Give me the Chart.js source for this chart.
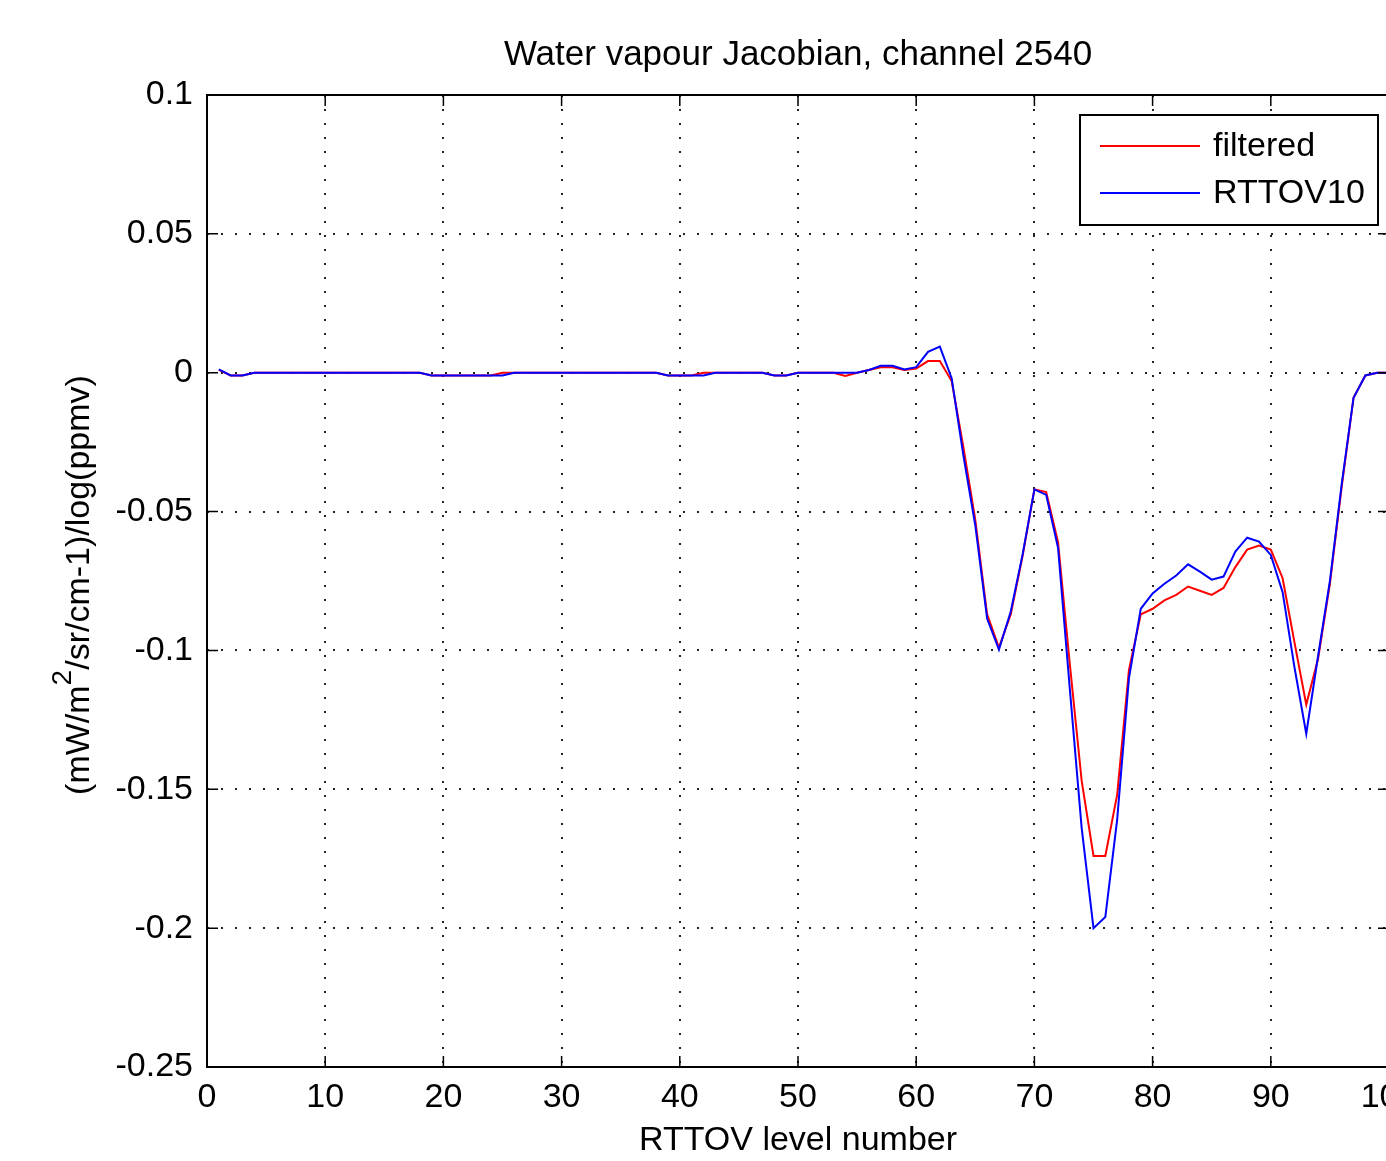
<!DOCTYPE html>
<html>
<head>
<meta charset="utf-8">
<script src="https://cdn.jsdelivr.net/npm/chart.js@4/dist/chart.umd.min.js"></script>
<style>
  html, body { margin: 0; padding: 0; background: #fff; overflow: hidden; }
  #wrap { width: 1386px; height: 1161px; overflow: hidden; }
  canvas { display: block; }
</style>
</head>
<body>
<div id="wrap"><canvas id="jac" width="1430" height="1161"></canvas></div>
<script>
// RTTOV levels 1..100
const levels = [1,2,3,4,5,6,7,8,9,10,11,12,13,14,15,16,17,18,19,20,
  21,22,23,24,25,26,27,28,29,30,31,32,33,34,35,36,37,38,39,40,
  41,42,43,44,45,46,47,48,49,50,51,52,53,54,55,56,57,58,59,60,
  61,62,63,64,65,66,67,68,69,70,71,72,73,74,75,76,77,78,79,80,
  81,82,83,84,85,86,87,88,89,90,91,92,93,94,95,96,97,98,99,100];

// filtered jacobian (red)
const filtered = [0.001,-0.001,-0.001,0,0,0,0,0,0,0,0,0,0,0,0,0,0,0,-0.001,-0.001,
  -0.001,-0.001,-0.001,-0.001,0,0,0,0,0,0,0,0,0,0,0,0,0,0,-0.001,-0.001,
  -0.001,0,0,0,0,0,0,-0.001,-0.001,0,0,0,0,-0.0012,0,0.001,0.002,0.002,0.001,0.0015,
  0.0042,0.0042,-0.003,-0.027,-0.053,-0.087,-0.099,-0.087,-0.066,-0.042,-0.043,-0.061,-0.105,-0.147,-0.174,-0.174,-0.152,-0.107,-0.087,-0.085,
  -0.082,-0.080,-0.077,-0.0785,-0.080,-0.0775,-0.070,-0.0637,-0.0622,-0.0637,-0.074,-0.097,-0.1195,-0.103,-0.076,-0.041,-0.009,-0.001,0,0];

// RTTOV10 jacobian (blue)
const rttov10 = [0.0012,-0.001,-0.001,0,0,0,0,0,0,0,0,0,0,0,0,0,0,0,-0.001,-0.001,
  -0.001,-0.001,-0.001,-0.001,-0.001,0,0,0,0,0,0,0,0,0,0,0,0,0,-0.001,-0.001,
  -0.001,-0.001,0,0,0,0,0,-0.001,-0.001,0,0,0,0,0,0,0.001,0.0025,0.0025,0.0012,0.002,
  0.0075,0.0094,-0.002,-0.030,-0.055,-0.0885,-0.0997,-0.086,-0.0655,-0.042,-0.044,-0.063,-0.114,-0.164,-0.200,-0.196,-0.161,-0.110,-0.085,-0.0795,
  -0.076,-0.073,-0.069,-0.0716,-0.0745,-0.0734,-0.0644,-0.0594,-0.0608,-0.0656,-0.079,-0.106,-0.130,-0.102,-0.075,-0.040,-0.009,-0.001,0,0];

const titleText = 'Water vapour Jacobian, channel 2540';
const xTitle = 'RTTOV level number';
const yTitleParts = ['(mW/m', '2', '/sr/cm-1)/log(ppmv)'];

const fam = '"Liberation Sans", Arial, sans-serif';

function pts(vals) {
  return levels.map((l, i) => ({ x: l, y: vals[i] }));
}

// box around the axes with inward ticks, matlab style
const axesBox = {
  id: 'axesBox',
  afterDatasetsDraw(chart) {
    const ctx = chart.ctx, a = chart.chartArea;
    const xs = chart.scales.x, ys = chart.scales.y;
    ctx.save();
    ctx.strokeStyle = '#000';
    ctx.lineWidth = 2;
    ctx.strokeRect(a.left, a.top, a.right - a.left, a.bottom - a.top);
    ctx.lineWidth = 1.5;
    ctx.beginPath();
    xs.ticks.forEach(t => {
      const px = xs.getPixelForValue(t.value);
      ctx.moveTo(px, a.bottom); ctx.lineTo(px, a.bottom - 11);
      ctx.moveTo(px, a.top); ctx.lineTo(px, a.top + 11);
    });
    ys.ticks.forEach(t => {
      const py = ys.getPixelForValue(t.value);
      ctx.moveTo(a.left, py); ctx.lineTo(a.left + 11, py);
      ctx.moveTo(a.right, py); ctx.lineTo(a.right - 11, py);
    });
    ctx.stroke();
    ctx.restore();
  }
};

// title centred over the axes, y title with superscript 2
const texts = {
  id: 'texts',
  afterDraw(chart) {
    const ctx = chart.ctx, a = chart.chartArea;
    ctx.save();
    ctx.fillStyle = '#000';
    ctx.textBaseline = 'middle';
    ctx.textAlign = 'center';
    ctx.font = '35px ' + fam;
    ctx.fillText(titleText, (a.left + a.right) / 2, 55);

    ctx.translate(80, (a.top + a.bottom) / 2 + 4);
    ctx.rotate(-Math.PI / 2);
    ctx.textAlign = 'left';
    const big = '34px ' + fam, sup = '28px ' + fam;
    ctx.font = big;
    const w1 = ctx.measureText(yTitleParts[0]).width;
    const w3 = ctx.measureText(yTitleParts[2]).width;
    ctx.font = sup;
    const w2 = ctx.measureText(yTitleParts[1]).width;
    let x = -(w1 + w2 + w3) / 2;
    ctx.font = big;
    ctx.fillText(yTitleParts[0], x, 0);
    x += w1;
    ctx.font = sup;
    ctx.fillText(yTitleParts[1], x, -17);
    x += w2;
    ctx.font = big;
    ctx.fillText(yTitleParts[2], x, 0);
    ctx.restore();
  }
};

// legend box in the upper right corner
const boxLegend = {
  id: 'boxLegend',
  afterDraw(chart) {
    const ctx = chart.ctx;
    ctx.save();
    ctx.fillStyle = '#fff';
    ctx.fillRect(1080, 115, 298, 110);
    ctx.strokeStyle = '#000';
    ctx.lineWidth = 2;
    ctx.strokeRect(1080, 115, 298, 110);
    ctx.font = '34px ' + fam;
    ctx.textBaseline = 'middle';
    ctx.textAlign = 'left';
    chart.data.datasets.forEach((ds, k) => {
      const y = 146 + k * 47;
      ctx.strokeStyle = ds.borderColor;
      ctx.lineWidth = 2;
      ctx.beginPath();
      ctx.moveTo(1100, y); ctx.lineTo(1200, y);
      ctx.stroke();
      ctx.fillStyle = '#000';
      ctx.fillText(ds.label, 1213, y + 1);
    });
    ctx.restore();
  }
};

const ctx = document.getElementById('jac').getContext('2d');
new Chart(ctx, {
  type: 'line',
  data: {
    datasets: [{
      label: 'filtered',
      data: pts(filtered),
      borderColor: '#ff0000',
      borderWidth: 2,
      pointRadius: 0,
      tension: 0,
      order: 1
    }, {
      label: 'RTTOV10',
      data: pts(rttov10),
      borderColor: '#0000ff',
      borderWidth: 2,
      pointRadius: 0,
      tension: 0,
      order: 0
    }]
  },
  options: {
    responsive: false,
    animation: false,
    events: [],
    layout: { padding: { left: 0, right: 41, top: 95, bottom: 0 } },
    plugins: {
      legend: { display: false },
      tooltip: { enabled: false },
      title: { display: false }
    },
    scales: {
      x: {
        type: 'linear',
        min: 0,
        max: 100,
        afterFit: s => { s.height = 94; },
        ticks: { stepSize: 10, color: '#000', padding: 10, maxRotation: 0,
                 font: { family: fam, size: 34 } },
        grid: { color: '#222', lineWidth: 2, drawTicks: false },
        border: { display: false, dash: [2, 12] },
        title: { display: true, text: xTitle, color: '#000',
                 font: { family: fam, size: 34 }, padding: { top: 0, bottom: 0 } }
      },
      y: {
        min: -0.25,
        max: 0.1,
        afterFit: s => { s.width = 207; },
        ticks: { stepSize: 0.05, color: '#000', padding: 14,
                 font: { family: fam, size: 34 },
                 callback: v => String(Math.round(v * 100) / 100 || 0) },
        grid: { color: '#222', lineWidth: 2, drawTicks: false },
        border: { display: false, dash: [2, 12] }
      }
    }
  },
  plugins: [axesBox, texts, boxLegend]
});
</script>
</body>
</html>
